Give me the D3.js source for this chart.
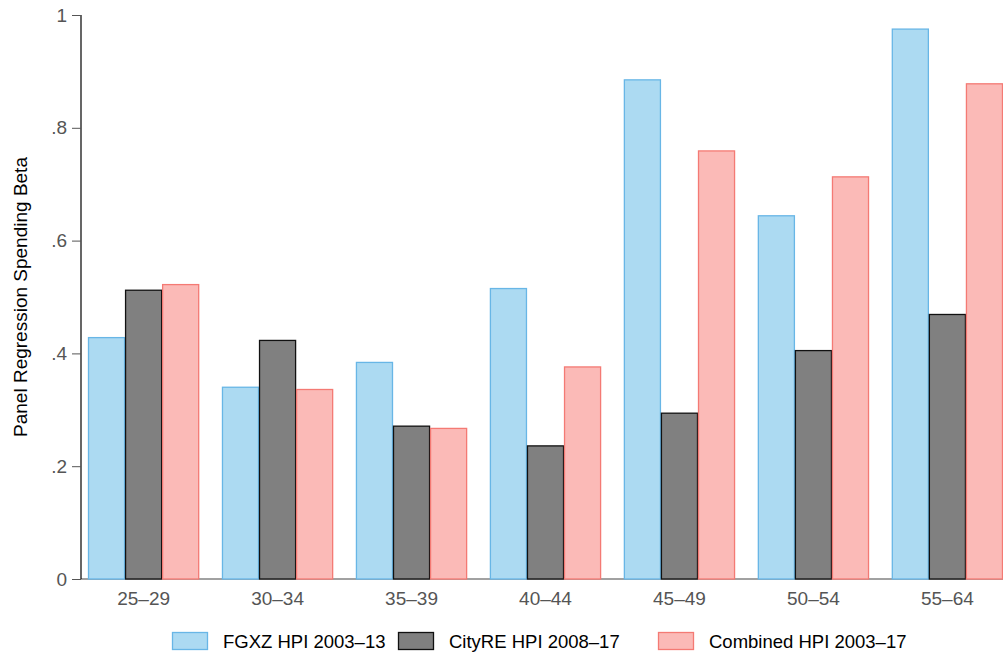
<!DOCTYPE html>
<html>
<head>
<meta charset="utf-8">
<script src="https://cdn.jsdelivr.net/npm/d3@7"></script>
<style>
  body { margin: 0; background: #fff; }
  svg { display: block; font-family: "Liberation Sans", Arial, Helvetica, sans-serif; }
</style>
</head>
<body>
<div id="chart"></div>
<script>
  // Age groups and series values
  const ageGroups = ["25–29", "30–34", "35–39", "40–44", "45–49", "50–54", "55–64"];
  const fgxz = [0.428, 0.340, 0.384, 0.515, 0.885, 0.644, 0.975];
  const cityRE = [0.512, 0.423, 0.271, 0.236, 0.294, 0.405, 0.469];
  const combined = [0.522, 0.336, 0.267, 0.376, 0.759, 0.713, 0.878];
  const seriesNames = ["FGXZ HPI 2003–13", "CityRE HPI 2008–17", "Combined HPI 2003–17"];
  const yTicks = [0, 0.2, 0.4, 0.6, 0.8, 1];

  const fills = ["#acdaf2", "#808080", "#fbbab7"];
  const strokes = ["#68b6e6", "#111111", "#f47a74"];

  const width = 1003;
  const height = 656;

  const svg = d3.select("#chart").append("svg")
    .attr("width", width)
    .attr("height", height);

  // Scales
  const x = d3.scaleBand()
    .domain(ageGroups)
    .range([88, 1003])
    .paddingInner(0.17)
    .paddingOuter(0);

  const series = [fgxz, cityRE, combined];
  const xSub = d3.scaleBand()
    .domain(d3.range(series.length))
    .range([0, x.bandwidth()]);

  const y = d3.scaleLinear()
    .domain([0, 1])
    .range([579, 15]);

  // Baseline at zero
  svg.append("line")
    .attr("x1", 81).attr("x2", 1003)
    .attr("y1", y(0)).attr("y2", y(0))
    .attr("stroke", "#444")
    .attr("stroke-width", 1);

  // Bars
  series.forEach((vals, s) => {
    svg.append("g")
      .selectAll("rect")
      .data(vals)
      .join("rect")
      .attr("x", (d, i) => x(ageGroups[i]) + xSub(s) + 0.5)
      .attr("y", d => y(d))
      .attr("width", xSub.bandwidth() - 1)
      .attr("height", d => y(0) - y(d))
      .attr("fill", fills[s])
      .attr("stroke", strokes[s])
      .attr("stroke-width", 1.3);
  });

  // Y axis
  const yAxis = d3.axisLeft(y)
    .tickValues(yTicks)
    .tickSize(9)
    .tickPadding(5)
    .tickFormat(d => d === 0 ? "0" : d === 1 ? "1" : d3.format(".1f")(d).replace(/^0/, ""));

  const gy = svg.append("g")
    .attr("transform", "translate(81,0)")
    .call(yAxis);
  gy.select(".domain").attr("stroke", "#000").attr("stroke-width", 1.2)
    .attr("d", `M0,${y(1)}V${y(0)}`);
  gy.selectAll(".tick line").attr("stroke", "#555");
  gy.selectAll(".tick text")
    .attr("fill", "#555")
    .style("font-size", "19px")
    .style("font-family", "Liberation Sans, Arial, sans-serif");

  // X axis labels
  const xAxis = d3.axisBottom(x).tickSize(0).tickPadding(13);
  const gx = svg.append("g")
    .attr("transform", `translate(0,${y(0)})`)
    .call(xAxis);
  gx.select(".domain").remove();
  gx.selectAll(".tick text")
    .attr("fill", "#555")
    .style("font-size", "19px")
    .style("font-family", "Liberation Sans, Arial, sans-serif");

  // Y axis title
  svg.append("text")
    .attr("transform", "translate(27,297) rotate(-90)")
    .attr("text-anchor", "middle")
    .style("font-size", "19px")
    .attr("fill", "#000")
    .text("Panel Regression Spending Beta");

  // Legend
  const legendX = [172, 398, 658];
  const legend = svg.append("g");
  seriesNames.forEach((name, i) => {
    legend.append("rect")
      .attr("x", legendX[i] + 0.5)
      .attr("y", 632.5)
      .attr("width", 35)
      .attr("height", 17)
      .attr("fill", fills[i])
      .attr("stroke", strokes[i])
      .attr("stroke-width", 1.3);
    legend.append("text")
      .attr("x", legendX[i] + 51)
      .attr("y", 648)
      .style("font-size", "18.5px")
      .attr("fill", "#000")
      .text(name);
  });
</script>
</body>
</html>
